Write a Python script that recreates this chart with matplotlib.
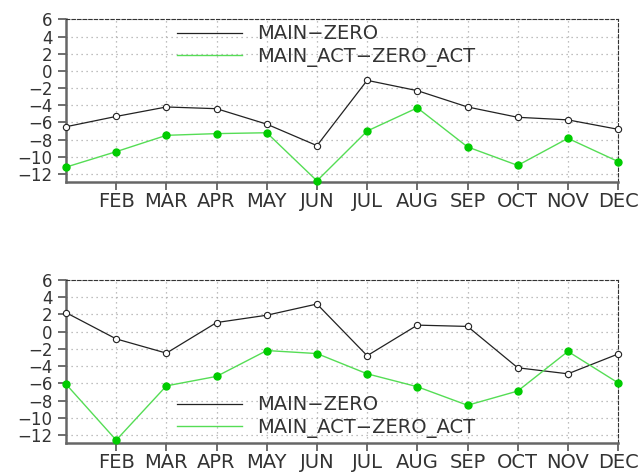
import matplotlib
matplotlib.use("Agg")
import matplotlib.pyplot as plt

months = ["JAN", "FEB", "MAR", "APR", "MAY", "JUN", "JUL", "AUG", "SEP", "OCT", "NOV", "DEC"]
month_num = list(range(1, 13))
yticks = [6, 4, 2, 0, -2, -4, -6, -8, -10, -12]

# top panel
top_main = [-6.5, -5.3, -4.2, -4.4, -6.2, -8.7, -1.1, -2.3, -4.2, -5.4, -5.7, -6.8]
top_act = [-11.2, -9.4, -7.5, -7.3, -7.2, -12.8, -7.0, -4.3, -8.85, -11.0, -7.85, -10.55]

# bottom panel
bot_main = [2.2, -0.85, -2.5, 1.05, 1.9, 3.2, -2.8, 0.75, 0.6, -4.2, -4.9, -2.6]
bot_act = [-6.1, -12.6, -6.3, -5.2, -2.2, -2.55, -4.9, -6.4, -8.55, -6.9, -2.3, -5.95]

fig = plt.figure(figsize=(6.39, 4.72), dpi=100)

def draw_panel(rect, main, act, legend_y):
    ax = fig.add_axes(rect)
    ax.plot(month_num, main, color="#222222", lw=0.9, marker="o", ms=4.5,
            mfc="white", mec="#222222", mew=0.8, clip_on=False, zorder=3)
    ax.plot(month_num, act, color="#55dd55", lw=1.0, marker="o", ms=5,
            mfc="#00cc00", mec="#00cc00", clip_on=False, zorder=3)
    ax.set_xlim(1, 12)
    ax.set_ylim(-12.9, 6)
    ax.set_yticks(yticks)
    # labels packed tight like the original, kept just small enough not to collide
    ax.set_yticklabels([str(v).replace("-", "\u2212") for v in yticks],
                       fontsize=12, color="#333333")
    ax.set_xticks(month_num[1:])
    ax.set_xticklabels(months[1:], fontsize=14, color="#333333")
    ax.grid(True, color="#aaaaaa", ls=(0, (1, 3)), lw=0.9)
    ax.tick_params(axis="x", direction="out", length=5.8, width=1.2, color="#555555", pad=1.5)
    ax.tick_params(axis="y", direction="out", length=5.8, width=1.2, color="#555555", pad=4)
    for s in ["left", "bottom"]:
        ax.spines[s].set_color("#666666")
        ax.spines[s].set_linewidth(1.8)
    for s in ["top", "right"]:
        ax.spines[s].set_color("#333333")
        ax.spines[s].set_linewidth(0.8)
        ax.spines[s].set_linestyle((0, (3, 2)))
    leg = ax.legend(["MAIN\u2212ZERO", "MAIN_ACT\u2212ZERO_ACT"], loc="upper left",
                    bbox_to_anchor=(0.201, legend_y), frameon=False, fontsize=14,
                    handlelength=3.35, handletextpad=0.77, labelspacing=0.2,
                    borderaxespad=0, borderpad=0)
    for t in leg.get_texts():
        t.set_color("#333333")
    for h in leg.legend_handles:
        h.set_marker("")
    return ax

draw_panel([0.1033, 0.615, 0.864, 0.344], top_main, top_act, 0.969)
draw_panel([0.1033, 0.062, 0.864, 0.345], bot_main, bot_act, 0.291)

fig.savefig("out.png", dpi=100)
